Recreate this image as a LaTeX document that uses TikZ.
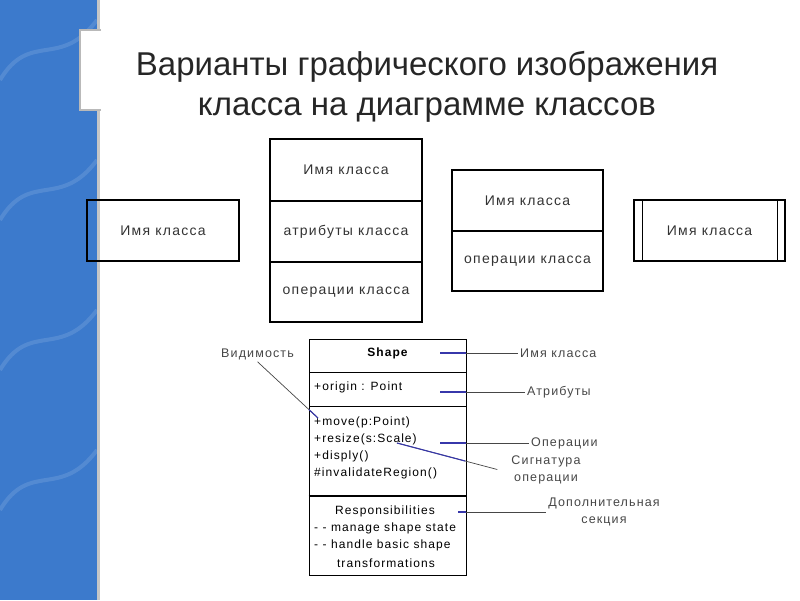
\documentclass[tikz,border=0pt]{standalone}
\usepackage{fontspec}
\setmainfont{Liberation Sans}
\newfontfamily\spacedfont[LetterSpace=9]{Liberation Sans}
\usetikzlibrary{positioning,calc}

\definecolor{bgblue}{RGB}{60,122,204}
\definecolor{linkblue}{RGB}{55,55,170}
\definecolor{labelgray}{RGB}{70,70,70}

\begin{document}
\begin{tikzpicture}[x=1pt,y=-1pt,
  clsbox/.style={draw,line width=1.2pt,inner sep=0pt,font=\spacedfont\fontsize{14}{16}\selectfont,text=black!80},
  part/.style={draw,line width=.8pt,inner sep=0pt,minimum width=157pt},
  member/.style={anchor=west,inner sep=0pt,font=\spacedfont\fontsize{12}{14}\selectfont},
  note/.style={inner sep=2pt,font=\spacedfont\fontsize{12.5}{17}\selectfont,text=labelgray,align=center},
  outer/.style={labelgray,line width=.7pt},
  inner/.style={linkblue,line width=1.1pt}]
\useasboundingbox (0,0) rectangle (800,600);
% background strip
\fill[bgblue] (0,0) rectangle (97,600);
\foreach \y in {40,180,330,470}
  \draw[white,opacity=.12,line width=4pt] (0,\y+40) .. controls (30,\y-10) and (60,\y+30) .. (97,\y-20);
\fill[gray!45] (97,0) rectangle (100,600);
\filldraw[fill=white,draw=gray!55,line width=1.5pt] (101,30) -- (80,30) -- (80,110) -- (101,110);
\fill[white] (99,31) rectangle (102,109);
% title
\node[align=center,font=\fontsize{33}{40}\selectfont,text=black!85] (title) at (427,87)
  {Варианты графического изображения\\класса на диаграмме классов};

% four forms of a class
\node[clsbox,minimum width=152pt,minimum height=61pt] (n1) at (163,230.5) {Имя класса};
\node[clsbox,minimum width=152pt,minimum height=62pt] (n2a) at (346,170) {Имя класса};
\node[clsbox,minimum width=152pt,minimum height=61pt] (n2b) at (346,231.5) {атрибуты класса};
\node[clsbox,minimum width=152pt,minimum height=60pt] (n2c) at (346,292) {операции класса};
\node[clsbox,minimum width=151pt,minimum height=61pt] (n3a) at (527.5,200.5) {Имя класса};
\node[clsbox,minimum width=151pt,minimum height=60pt] (n3b) at (527.5,261) {операции класса};
\node[clsbox,minimum width=151pt,minimum height=61pt] (n4) at (709.5,230.5) {Имя класса};
\draw[line width=1.2pt] ([xshift=9pt]n4.north west) -- ([xshift=9pt]n4.south west);
\draw[line width=1.2pt] ([xshift=-8pt]n4.north east) -- ([xshift=-8pt]n4.south east);

% detailed class
\node[part,minimum height=33pt] (s1) at (387.5,355.5) {};
\node[part,minimum height=34pt] (s2) at (387.5,389) {};
\node[part,minimum height=90pt] (s3) at (387.5,451) {};
\node[part,minimum height=79pt] (s4) at (387.5,535.5) {};
\draw[line width=1.6pt] (s4.north west) -- (s4.north east);
\node[font=\spacedfont\bfseries\fontsize{12}{14}\selectfont] (t0) at (387.5,353) {Shape};
\node[member] (t1) at (314,387) {+origin : Point};
\node[member] (t2) at (314,422) {+move(p:Point)};
\node[member] (t3) at (314,439) {+resize(s:Scale)};
\node[member] (t4) at (314,456) {+disply()};
\node[member] (t5) at (314,473) {\#invalidateRegion()};
\node[member,anchor=center] (t6) at (385,511) {Responsibilities};
\node[member] (t7) at (314,528) {- - manage shape state};
\node[member] (t8) at (314,545) {- - handle basic shape};
\node[member,anchor=center] (t9) at (386,563) {transformations};

% notes
\node[note,anchor=west] (l1) at (518,353) {Имя класса};
\node[note,anchor=west] (l2) at (525,392) {Атрибуты};
\node[note,anchor=west] (l3) at (529,443) {Операции};
\node[note] (l4) at (546,469.5) {Сигнатура\\операции};
\node[note] (l5) at (604,512) {Дополнительная\\секция};
\node[note] (l6) at (257.5,354) {Видимость};

\coordinate (p1) at (440,353);
\coordinate (p2) at (440,392);
\coordinate (p3) at (440,443);
\coordinate (p4) at (397,443);
\coordinate (p5) at (458,512);
\coordinate (p6) at (318,418);
\draw[outer] (p1) -- (l1.west);
\draw[inner] (p1) -- (p1 -| s1.east);
\draw[outer] (p2) -- (l2.west);
\draw[inner] (p2) -- (p2 -| s2.east);
\draw[outer] (p3) -- (l3.west);
\draw[inner] (p3) -- (p3 -| s3.east);
\draw[outer] (p4) -- ([xshift=-12pt]l4.west);
\draw[inner] (p4) -- ($(p4)!.68!([xshift=-12pt]l4.west)$);
\draw[outer] (p5) -- (l5.west);
\draw[inner] (p5) -- (p5 -| s4.east);
\draw[outer] (l6.south) -- (p6);
\draw[inner] ($(p6)!.15!(l6.south)$) -- (p6);
\end{tikzpicture}
\end{document}
